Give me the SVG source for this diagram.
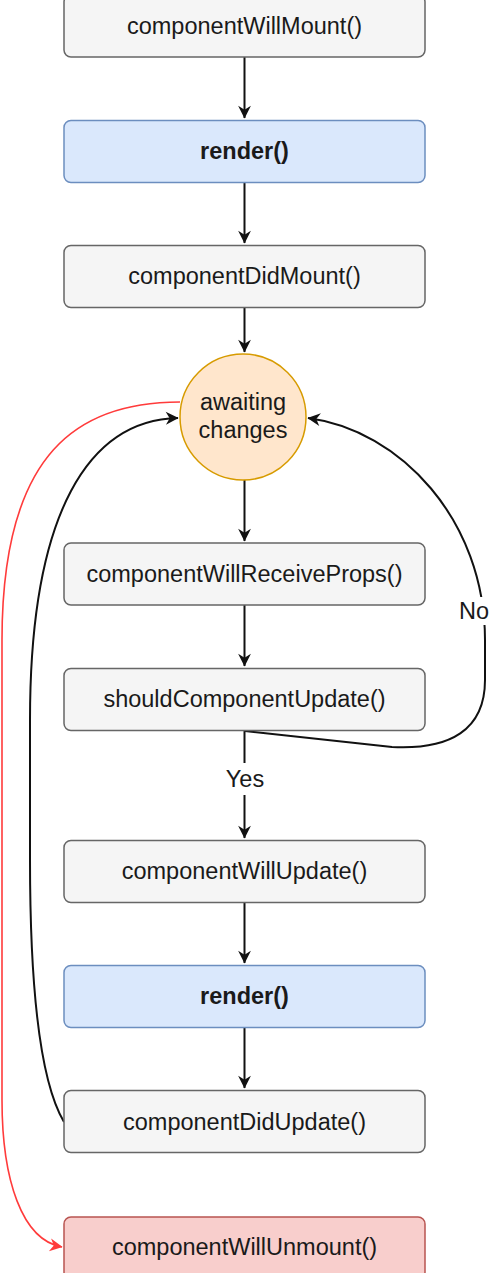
<svg xmlns="http://www.w3.org/2000/svg" width="489" height="1273" viewBox="0 0 489 1273">
<defs>
<style>
.gray{fill:#f5f5f5;stroke:#666666;stroke-width:1.5}
.blue{fill:#dae8fc;stroke:#6c8ebf;stroke-width:1.5}
.red{fill:#f8cecc;stroke:#b85450;stroke-width:1.5}
.t{font-family:"Liberation Sans",Arial,sans-serif;font-size:23.5px;fill:#1a1a1a;text-anchor:middle}
.b{font-weight:bold}
.e{fill:none;stroke:#111;stroke-width:2}
.er{fill:none;stroke:#ff3b3b;stroke-width:1.6}
</style>
<marker id="ah" viewBox="0 0 10 10" refX="9" refY="5" markerWidth="8" markerHeight="8" markerUnits="userSpaceOnUse" orient="auto" overflow="visible">
<path d="M0,0 L10,5 L0,10 L3,5 Z" fill="#111" transform="scale(1.6) translate(-3.9,-1.9)"/>
</marker>
<marker id="ahr" viewBox="0 0 10 10" refX="9" refY="5" markerWidth="8" markerHeight="8" markerUnits="userSpaceOnUse" orient="auto" overflow="visible">
<path d="M0,0 L10,5 L0,10 L3,5 Z" fill="#ff3b3b" transform="scale(1.6) translate(-3.9,-1.9)"/>
</marker>
</defs>
<rect width="489" height="1273" fill="#ffffff"/>
<g id="connectors">
<path class="e" d="M244.5,57 L244.5,118" marker-end="url(#ah)"/>
<path class="e" d="M244.5,183 L244.5,243" marker-end="url(#ah)"/>
<path class="e" d="M244.5,307 L244.5,352" marker-end="url(#ah)"/>
<path class="e" d="M244.5,480 L244.5,541" marker-end="url(#ah)"/>
<path class="e" d="M244.5,605 L244.5,666" marker-end="url(#ah)"/>
<path class="e" d="M244.5,731 L244.5,838" marker-end="url(#ah)"/>
<path class="e" d="M244.5,903 L244.5,963" marker-end="url(#ah)"/>
<path class="e" d="M244.5,1028 L244.5,1088" marker-end="url(#ah)"/>
<path class="e" d="M245,731 L392,747 C450,750 485,730 485,680 L485,640 C485,520 400,430 308,418" marker-end="url(#ah)"/>
<path class="e" d="M64,1122 C42,1085 30,1000 30,860 L30,720 C30,510 90,420 178,418" marker-end="url(#ah)"/>
<path class="er" d="M180,402 C80,402 2,450 2,640 L2,1100 C2,1180 22,1240 62,1247" marker-end="url(#ahr)"/>
<rect x="224" y="763" width="42" height="32" fill="#ffffff"/>
<text class="t" x="245" y="787">Yes</text>
<rect x="459" y="597" width="30" height="28" fill="#ffffff"/>
<text class="t" x="474" y="619">No</text>
</g>
<g id="componentWillMount"><rect class="gray" x="64" y="-5" width="361" height="62" rx="7"/><text class="t" x="244.5" y="34">componentWillMount()</text></g>
<g id="render1"><rect class="blue" x="64" y="120.5" width="361" height="62" rx="7"/><text class="t b" x="244.5" y="159">render()</text></g>
<g id="componentDidMount"><rect class="gray" x="64" y="245.5" width="361" height="62" rx="7"/><text class="t" x="244.5" y="284">componentDidMount()</text></g>
<g id="awaitingChanges"><circle cx="243" cy="417" r="63" fill="#ffe6cc" stroke="#d79b00" stroke-width="1.5"/><text class="t" x="243" y="410">awaiting</text><text class="t" x="243" y="438">changes</text></g>
<g id="componentWillReceiveProps"><rect class="gray" x="64" y="543" width="361" height="62" rx="7"/><text class="t" x="244.5" y="582">componentWillReceiveProps()</text></g>
<g id="shouldComponentUpdate"><rect class="gray" x="64" y="668.5" width="361" height="62" rx="7"/><text class="t" x="244.5" y="707">shouldComponentUpdate()</text></g>
<g id="componentWillUpdate"><rect class="gray" x="64" y="840.5" width="361" height="62" rx="7"/><text class="t" x="244.5" y="879">componentWillUpdate()</text></g>
<g id="render2"><rect class="blue" x="64" y="965.5" width="361" height="62" rx="7"/><text class="t b" x="244.5" y="1004">render()</text></g>
<g id="componentDidUpdate"><rect class="gray" x="64" y="1090.5" width="361" height="62" rx="7"/><text class="t" x="244.5" y="1130">componentDidUpdate()</text></g>
<g id="componentWillUnmount"><rect class="red" x="64" y="1217" width="361" height="62" rx="7"/><text class="t" x="244.5" y="1255">componentWillUnmount()</text></g>
</svg>
